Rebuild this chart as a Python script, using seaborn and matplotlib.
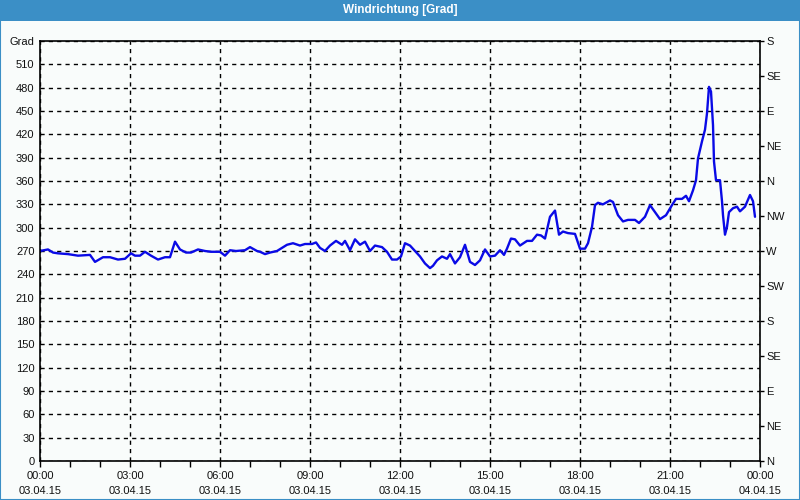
import matplotlib
matplotlib.use("Agg")
import matplotlib.pyplot as plt
import seaborn as sns
import pandas as pd
import numpy as np
from matplotlib.patches import Rectangle
from matplotlib.ticker import MultipleLocator

# ---- data -------------------------------------------------------------
times = ["00:00", "00:16", "00:26", "00:36", "00:56", "01:16", "01:40", "01:50",
         "02:06", "02:20", "02:36", "02:50", "03:02", "03:10", "03:20", "03:30",
         "03:42", "03:56", "04:10", "04:20", "04:30", "04:40", "04:52", "05:02",
         "05:16", "05:30", "05:42", "06:00", "06:10", "06:20", "06:32", "06:50",
         "07:00", "07:14", "07:20", "07:30", "07:40", "07:54", "08:04", "08:14",
         "08:26", "08:40", "08:50", "09:04", "09:12", "09:20", "09:30", "09:40",
         "09:52", "10:04", "10:10", "10:20", "10:30", "10:40", "10:50", "11:00",
         "11:10", "11:24", "11:34", "11:44", "11:54", "12:02", "12:10", "12:20",
         "12:30", "12:40", "12:50", "13:00", "13:06", "13:14", "13:24", "13:34",
         "13:40", "13:50", "14:00", "14:10", "14:20", "14:30", "14:40", "14:50",
         "15:00", "15:10", "15:20", "15:28", "15:34", "15:42", "15:50", "16:00",
         "16:14", "16:24", "16:34", "16:42", "16:50", "17:00", "17:10", "17:18",
         "17:26", "17:36", "17:50", "18:00", "18:10", "18:16", "18:24", "18:30",
         "18:36", "18:46", "19:00", "19:06", "19:16", "19:26", "19:36", "19:50",
         "19:58", "20:10", "20:20", "20:30", "20:40", "20:52", "21:04", "21:12",
         "21:24", "21:32", "21:38", "21:46", "21:52", "21:56", "22:04", "22:10",
         "22:14", "22:18", "22:22", "22:26", "22:28", "22:32", "22:40", "22:44",
         "22:46", "22:50", "22:54", "22:58", "23:06", "23:14", "23:20", "23:30",
         "23:36", "23:40", "23:46", "23:50"]
direction = [270, 272, 268, 267, 266, 264, 265, 256,
             262, 262, 259, 260, 267, 264, 264, 269,
             264, 259, 262, 262, 282, 272, 268, 268,
             272, 270, 269, 269, 264, 271, 270, 271,
             275, 270, 269, 266, 268, 270, 274, 278,
             280, 277, 279, 279, 281, 274, 270, 277,
             283, 278, 283, 271, 285, 278, 282, 270,
             277, 275, 269, 259, 259, 263, 280, 277,
             270, 263, 254, 248, 251, 258, 263, 260,
             266, 254, 262, 278, 256, 252, 258, 272,
             263, 264, 271, 265, 273, 286, 285, 277,
             283, 283, 291, 290, 286, 314, 322, 291,
             295, 293, 292, 273, 273, 280, 301, 329,
             332, 330, 335, 333, 316, 308, 310, 310,
             306, 314, 329, 320, 311, 316, 329, 337,
             337, 341, 334, 348, 361, 389, 411, 426,
             447, 481, 475, 432, 385, 361, 361, 334,
             316, 291, 301, 320, 325, 327, 321, 327,
             336, 342, 334, 314]

x_labels = ["00:00\n03.04.15", "03:00\n03.04.15", "06:00\n03.04.15",
            "09:00\n03.04.15", "12:00\n03.04.15", "15:00\n03.04.15",
            "18:00\n03.04.15", "21:00\n03.04.15", "00:00\n04.04.15"]
left_labels = [str(v) for v in range(0, 540, 30)] + ["Grad"]
compass = ["N", "NE", "E", "SE", "S", "SW", "W", "NW",
           "N", "NE", "E", "SE", "S"]
title = "Windrichtung [Grad]"

# ---- build ------------------------------------------------------------
hours = pd.to_timedelta([t + ":00" for t in times]).total_seconds() / 3600.0
df = pd.DataFrame({"h": hours, "deg": direction})

sns.set_theme(style="white")
plt.rcParams["font.family"] = ["Liberation Sans", "DejaVu Sans"]

bg = "#f9fcfb"
blue = "#3b8fc6"
fig = plt.figure(figsize=(8, 5), dpi=100, facecolor=bg)
ax = fig.add_axes([0.05, 0.078, 0.90, 0.840])
ax.set_facecolor(bg)

sns.lineplot(data=df, x="h", y="deg", ax=ax, color="#0a0ae6", lw=1.7,
             estimator=None, sort=False)

ax.set_xlim(0, 24)
ax.set_ylim(0, 540)
ax.set_xticks(np.arange(0, 25, 3))
ax.set_xticklabels(x_labels, fontsize=8, linespacing=1.65, color="#111111")
ax.xaxis.set_minor_locator(MultipleLocator(1))
ax.set_yticks(np.arange(0, 541, 30))
ax.set_yticklabels(left_labels, fontsize=8, color="#111111")
ax.set_xlabel("")
ax.set_ylabel("")
ax.tick_params(axis="x", which="major", direction="out", length=4, width=1,
               color="black", pad=3, bottom=True)
ax.tick_params(axis="x", which="minor", direction="out", length=4, width=1,
               color="black", bottom=True)
ax.tick_params(axis="y", which="major", direction="out", length=0, width=1,
               color="black", pad=4, left=True)

ax.grid(True, axis="both", which="major", color="black", lw=1,
        linestyle=(0, (3, 3)))
for s in ax.spines.values():
    s.set_visible(True)
    s.set_color("black")
    s.set_linewidth(1.2)

ax2 = ax.twinx()
ax2.set_ylim(0, 540)
ax2.set_yticks(np.arange(0, 541, 45))
ax2.set_yticklabels(compass, fontsize=8, color="#111111")
ax2.tick_params(axis="y", direction="out", length=3, width=1, color="black",
                pad=1.5, right=True)
ax2.grid(False)
for s in ax2.spines.values():
    s.set_visible(False)

# title bar and window frame
fig.patches.append(Rectangle((0, 1 - 21 / 500), 1, 21 / 500,
                             transform=fig.transFigure, facecolor=blue,
                             edgecolor="none", zorder=0))
fig.patches.append(Rectangle((0.0006, 0.001), 0.9988, 0.998,
                             transform=fig.transFigure, facecolor="none",
                             edgecolor=blue, lw=1.5, zorder=5))
fig.text(0.5, 1 - 10.5 / 500, title, ha="center", va="center",
         color="white", fontsize=8.5, fontweight="bold")

fig.savefig("out.png", dpi=100, facecolor=bg)
